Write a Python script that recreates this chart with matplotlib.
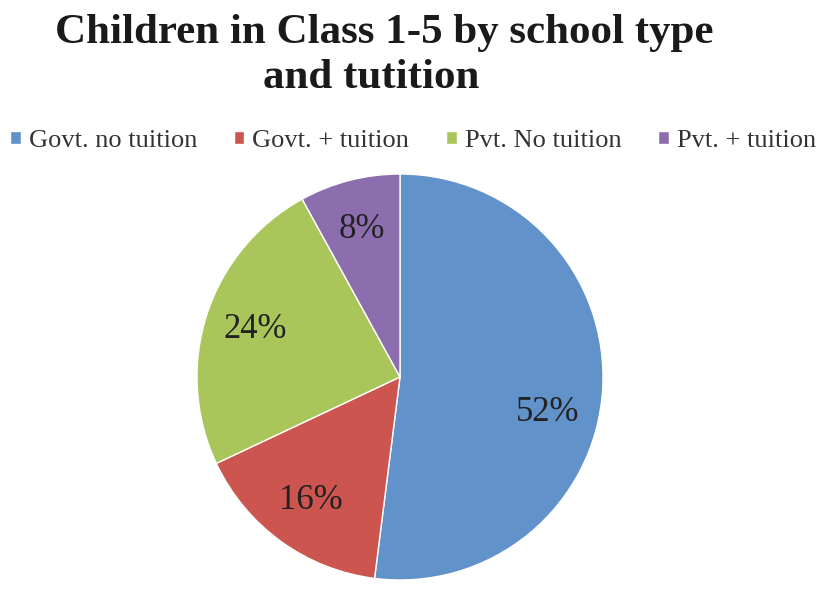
import matplotlib
matplotlib.use("Agg")
import numpy as np
import matplotlib.pyplot as plt

# share of children by school type and tuition
categories = ["Govt. no tuition", "Govt. + tuition", "Pvt. No tuition", "Pvt. + tuition"]
shares = [52, 16, 24, 8]
colors = ["#6292CA", "#CD5550", "#AAC65A", "#8C6EAF"]

title_font = ["Liberation Serif", "DejaVu Serif"]
text_font = ["Liberation Serif", "DejaVu Serif"]

W, H = 821, 609
fig = plt.figure(figsize=(W / 100, H / 100), dpi=100)
fig.patch.set_facecolor("white")

# pie area: centre and radius in pixels
cx, cy, r = 400, 377, 203
ax = fig.add_axes([(cx - r) / W, (H - cy - r) / H, 2 * r / W, 2 * r / H])

wedges, texts, autotexts = ax.pie(
    shares, colors=colors, startangle=90, counterclock=False,
    autopct="%d%%", pctdistance=0.75, radius=1,
    wedgeprops=dict(edgecolor="white", linewidth=1),
    textprops=dict(family=text_font, fontsize=25, color="#222222"),
)
ax.set_xlim(-1, 1)
ax.set_ylim(-1, 1)
ax.set_aspect("equal")

# the big slice label sits a little below the slice middle
x, y = autotexts[0].get_position()
a = np.deg2rad(-10)
autotexts[0].set_position((x * np.cos(a) - y * np.sin(a), x * np.sin(a) + y * np.cos(a)))

fig.text(384 / W, 1 - 33 / H, "Children in Class 1-5 by school type",
         ha="center", va="center", fontsize=31, fontweight="bold",
         family=title_font, color="#1a1a1a")
fig.text(371 / W, 1 - 78 / H, "and tutition",
         ha="center", va="center", fontsize=31, fontweight="bold",
         family=title_font, color="#1a1a1a")

leg = fig.legend(wedges, categories, loc="center", bbox_to_anchor=(0.503, 1 - 141 / H),
                 ncol=4, frameon=False, handlelength=0.4, handleheight=0.4,
                 handletextpad=0.3, columnspacing=1.4,
                 prop=dict(family=text_font, size=19))
for t in leg.get_texts():
    t.set_color("#333333")

fig.savefig("out.png", dpi=100)
